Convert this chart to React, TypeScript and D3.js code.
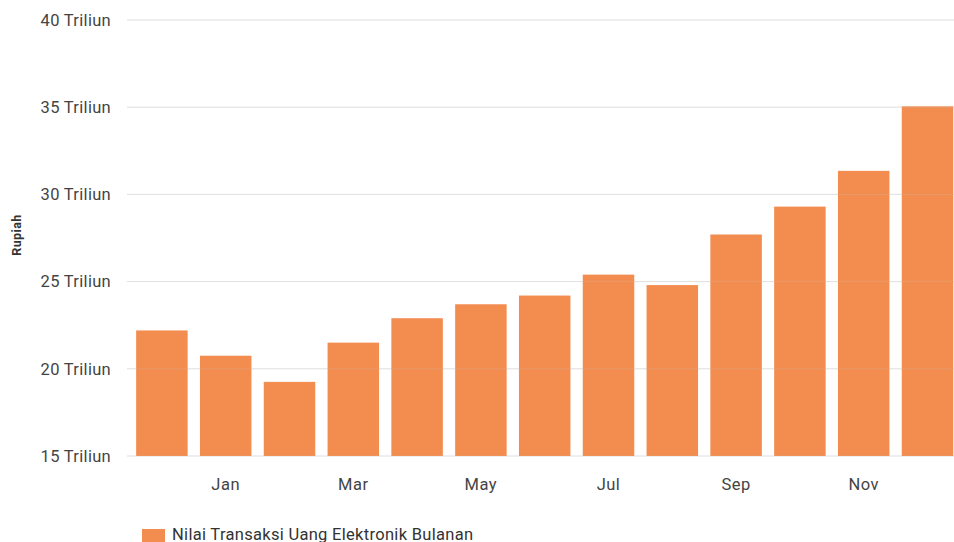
import React from "react";
import * as d3 from "d3";

const months = ["Dec0", "Jan", "Feb", "Mar", "Apr", "May", "Jun", "Jul", "Aug", "Sep", "Oct", "Nov", "Dec"];
const values = [22.2, 20.75, 19.25, 21.5, 22.9, 23.7, 24.2, 25.4, 24.8, 27.7, 29.3, 31.35, 35.05];
const shownLabels = ["Jan", "Mar", "May", "Jul", "Sep", "Nov"];
const yTicks = [15, 20, 25, 30, 35, 40];
const seriesName = "Nilai Transaksi Uang Elektronik Bulanan";
const yTitle = "Rupiah";

const W = 954;
const H = 542;
const COLOR = "#f38c4f";

export default function App() {
  const x = d3.scaleBand<string>().domain(months).range([130, 959.4]).paddingInner(0.193).paddingOuter(0.0965);
  const y = d3.scaleLinear().domain([15, 40]).range([456, 20]);
  const font = "Roboto, 'Noto Sans', sans-serif";
  return (
    <svg width={W} height={H} style={{ position: "absolute", left: 0, top: 0, background: "#fff" }} fontFamily={font}>
      <g>
        {yTicks.map((t) => (
          <line key={t} x1={127} x2={W} y1={y(t)} y2={y(t)} stroke="#e8e8e8" strokeWidth={1} />
        ))}
      </g>
      <g>
        {months.map((m, i) => (
          <rect key={m} x={x(m)} y={y(values[i])} width={x.bandwidth()} height={y(15) - y(values[i])} fill={COLOR} />
        ))}
      </g>
      <g>
        {yTicks.map((t) => (
          <g key={t}>
            <line x1={127} x2={W} y1={y(t)} y2={y(t)} stroke="#c8c8c8" strokeOpacity={0.22} strokeWidth={1} />
            <text x={111} y={y(t)} dy="0.35em" textAnchor="end" fontSize={16.5} letterSpacing={0.3} fill="#444">
              {t} Triliun
            </text>
          </g>
        ))}
      </g>
      <g>
        {shownLabels.map((m) => (
          <text key={m} x={(x(m) as number) + x.bandwidth() / 2} y={484} dy="0.35em" textAnchor="middle" fontSize={16.5} letterSpacing={0.5} fill="#444">
            {m}
          </text>
        ))}
      </g>
      <text transform={`translate(17,235) rotate(-90)`} textAnchor="middle" dy="0.35em" fontSize={12.5} fontWeight={700} letterSpacing={0.4} fill="#333">
        {yTitle}
      </text>
      <rect x={142} y={529} width={23} height={20} fill={COLOR} />
      <text x={172} y={539.5} fontSize={16.5} letterSpacing={0.3} fill="#333">
        {seriesName}
      </text>
    </svg>
  );
}
